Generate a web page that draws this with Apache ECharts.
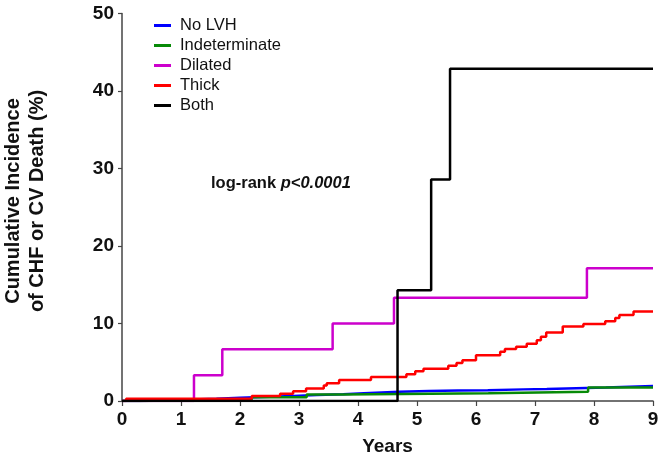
<!DOCTYPE html>
<html>
<head>
<meta charset="utf-8">
<script src="https://cdn.jsdelivr.net/npm/echarts@6/dist/echarts.min.js"></script>
<style>html,body{margin:0;padding:0;background:#fff;}#c{width:663px;height:462px;}</style>
</head>
<body>
<div id="c"></div>
<script>
// Data: [years, cumulative incidence %] step points (value holds from that year onward)
var seriesNames = ['No LVH', 'Indeterminate', 'Dilated', 'Thick', 'Both'];
var noLVH = [[0,0],[0.3,0.1],[0.8,0.2],[1.2,0.3],[1.6,0.42],[2.0,0.55],[2.5,0.65],[2.9,0.77],[3.3,0.88],[3.75,1.0],[4.1,1.1],[4.4,1.2],[4.7,1.3],[5.2,1.35],[5.7,1.4],[6.2,1.5],[6.8,1.55],[7.2,1.65],[7.7,1.75],[8.2,1.85],[8.6,1.92],[9,1.95]];
var indeterminate = [[0,0],[0.3,0.22],[2.2,0.5],[3.13,0.85],[3.75,1.0],[6.21,1.2],[7.9,1.75],[9,1.75]];
var dilated = [[0,0],[1.22,3.33],[1.7,6.67],[3.57,10],[4.61,13.33],[7.88,17.14],[9,17.14]];
var thick = [[0,0],[0.07,0.3],[2.2,0.65],[2.68,0.95],[2.9,1.25],[3.12,1.6],[3.42,2.0],[3.47,2.3],[3.68,2.7],[4.22,3.1],[4.82,3.45],[4.97,3.85],[5.11,4.15],[5.53,4.55],[5.67,4.9],[5.77,5.25],[6.0,5.9],[6.41,6.35],[6.49,6.7],[6.68,7.0],[6.86,7.4],[7.03,7.85],[7.1,8.3],[7.19,8.85],[7.47,9.6],[7.82,9.95],[8.19,10.3],[8.36,10.7],[8.43,11.1],[8.67,11.55],[9.0,11.55]];
var both = [[0,0],[4.67,14.29],[5.24,28.57],[5.56,42.86],[9,42.86]];
var xTicks = [0,1,2,3,4,5,6,7,8,9];
var yTicks = [0,10,20,30,40,50];

var colors = ['#0000ff', '#078a07', '#cc00cc', '#ff0000', '#000000'];
var datas = [noLVH, indeterminate, dilated, thick, both];

var chart = echarts.init(document.getElementById('c'));
var font = 'Liberation Sans, Arial, sans-serif';
chart.setOption({
  animation: false,
  grid: {left: 122, right: 10, top: 13.5, bottom: 61},
  legend: {
    orient: 'vertical', left: 154, top: 17, padding: 0,
    itemWidth: 17, itemHeight: 3, itemGap: 3, icon: 'rect',
    data: seriesNames,
    textStyle: {fontFamily: font, fontSize: 16.5, color: '#111', lineHeight: 17, padding: [0,0,0,4]}
  },
  xAxis: {
    type: 'value', min: xTicks[0], max: xTicks[xTicks.length-1], interval: 1,
    name: 'Years', nameLocation: 'middle', nameGap: 36,
    nameTextStyle: {fontFamily: font, fontSize: 19, fontWeight: 'bold', color: '#111'},
    axisLine: {show: true, onZero: false, lineStyle: {color: '#444', width: 1.5}},
    axisTick: {show: true, length: 5, lineStyle: {color: '#444', width: 1.2}},
    axisLabel: {fontFamily: font, fontSize: 19, fontWeight: 'bold', color: '#111', margin: 9},
    splitLine: {show: false}
  },
  yAxis: {
    type: 'value', min: yTicks[0], max: yTicks[yTicks.length-1], interval: 10,
    axisLine: {show: true, lineStyle: {color: '#444', width: 1.5}},
    axisTick: {show: true, length: 4, lineStyle: {color: '#444', width: 1.2}},
    axisLabel: {fontFamily: font, fontSize: 19, fontWeight: 'bold', color: '#111', margin: 8},
    splitLine: {show: false}
  },
  graphic: [
    {
      type: 'text', x: 25, y: 201, rotation: Math.PI / 2,
      style: {
        text: 'Cumulative Incidence\nof CHF or CV Death (%)',
        font: 'bold 20px ' + font, fill: '#111',
        textAlign: 'center', textVerticalAlign: 'middle', lineHeight: 24
      }
    },
    {
      type: 'text', left: 211, top: 175,
      style: {
        text: '{a|log-rank }{b|p<0.0001}',
        rich: {
          a: {font: 'bold 16.5px ' + font, fill: '#111'},
          b: {font: 'italic bold 16.5px ' + font, fill: '#111'}
        }
      }
    }
  ],
  series: seriesNames.map(function (n, i) {
    return {
      name: n, type: 'line', step: 'end', showSymbol: false, symbol: 'none',
      data: datas[i], z: 2 + i,
      color: colors[i],
      lineStyle: {color: colors[i], width: 2.5},
      itemStyle: {color: colors[i]}
    };
  })
});
</script>
</body>
</html>
